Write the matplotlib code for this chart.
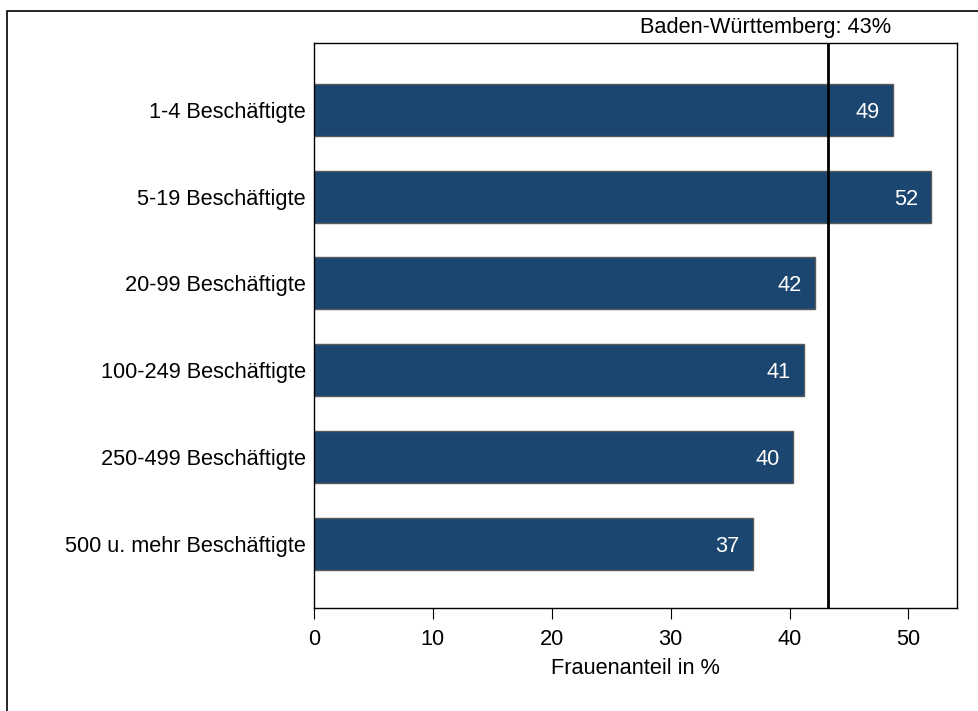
import matplotlib.pyplot as plt
import matplotlib.patches as mpatches

plt.rcParams['font.family'] = ['Liberation Sans', 'DejaVu Sans']

categories = ['1-4 Beschäftigte', '5-19 Beschäftigte', '20-99 Beschäftigte',
              '100-249 Beschäftigte', '250-499 Beschäftigte', '500 u. mehr Beschäftigte']
values = [48.7, 51.9, 42.1, 41.2, 40.3, 36.9]
labels = ['49', '52', '42', '41', '40', '37']
bw_value = 43.2
bw_label = 'Baden-Württemberg: 43%'

fs = 15.7

fig = plt.figure(figsize=(9.79, 7.11), dpi=100)
ax = fig.add_axes([0.3207, 0.1449, 0.6568, 0.7946])

# outer frame
fig.patches.append(mpatches.Rectangle((7 / 979, -0.05), 1.1, 1 - 11 / 711 + 0.05,
                                      transform=fig.transFigure, fill=False,
                                      edgecolor='black', linewidth=1.2))

ypos = list(range(len(categories)))
ax.barh(ypos, values, height=0.6, color='#1b4670', edgecolor='#5a5a5a', linewidth=1)
for y, v, lab in zip(ypos, values, labels):
    ax.text(v - 1.1, y, lab, color='white', ha='right', va='center_baseline', fontsize=fs)

ax.axvline(bw_value, color='black', linewidth=2)
ax.text(38.0, 1.008, bw_label, transform=ax.get_xaxis_transform(),
        ha='center', va='bottom', fontsize=fs)

ax.set_xlim(0, 54.08)
ax.set_ylim(5.74, -0.77)
ax.set_yticks(ypos)
ax.set_yticklabels(categories, fontsize=fs)
ax.tick_params(axis='y', length=0, pad=6)
ax.set_xticks([0, 10, 20, 30, 40, 50])
ax.tick_params(axis='x', length=8, labelsize=fs, pad=7)
ax.set_xlabel('Frauenanteil in %', fontsize=fs, labelpad=6)
for s in ax.spines.values():
    s.set_linewidth(1)

fig.savefig('out.png', dpi=100)
